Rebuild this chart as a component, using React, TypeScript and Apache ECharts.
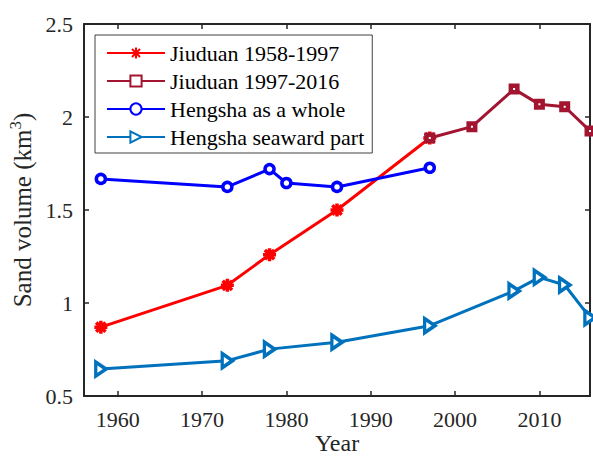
import React, { useEffect, useRef } from "react";
import * as echarts from "echarts";

const yearsJ1 = [1958, 1973, 1978, 1986, 1997];
const jiuduan1 = [0.87, 1.095, 1.26, 1.5, 1.887];
const yearsJ2 = [1997, 2002, 2007, 2010, 2013, 2016];
const jiuduan2 = [1.887, 1.948, 2.15, 2.068, 2.055, 1.925];
const yearsH = [1958, 1973, 1978, 1980, 1986, 1997];
const hengsha = [1.667, 1.624, 1.72, 1.645, 1.624, 1.727];
const yearsS = [1958, 1973, 1978, 1986, 1997, 2007, 2010, 2013, 2016];
const seaward = [0.645, 0.69, 0.752, 0.789, 0.878, 1.065, 1.138, 1.097, 0.921];
const xTicks = [1960, 1970, 1980, 1990, 2000, 2010];
const seriesNames = ["Jiuduan 1958-1997", "Jiuduan 1997-2016", "Hengsha as a whole", "Hengsha seaward part"];

const FONT = "Liberation Serif";
const AX = "#262626";

const pair = (xs: number[], ys: number[]) => xs.map((x, i) => [x, ys[i]]);

export default function App() {
  const ref = useRef<HTMLDivElement>(null);
  useEffect(() => {
    const chart = echarts.init(ref.current!, null, { renderer: "svg" });
    const axLine = { show: true, lineStyle: { color: AX, width: 2 } };
    const tickX = { show: true, inside: true, length: 5, customValues: xTicks, lineStyle: { color: AX, width: 1.5 } };
    const tickY = { show: true, inside: true, length: 5, lineStyle: { color: AX, width: 1.5 } };
    chart.setOption({
      animation: false,
      backgroundColor: "#fff",
      textStyle: { fontFamily: FONT },
      grid: { left: 84, right: 3, top: 24, bottom: 62, containLabel: false, outerBoundsMode: "none" },
      legend: {
        orient: "vertical",
        left: 95,
        top: 35,
        padding: [7, 8, 5, 11],
        itemGap: 6,
        itemWidth: 58,
        itemHeight: 14,
        borderColor: "#404040",
        borderWidth: 1,
        backgroundColor: "#fff",
        data: seriesNames,
        textStyle: { fontFamily: FONT, fontSize: 22, lineHeight: 22, color: "#000" },
      },
      xAxis: [
        {
          type: "value",
          min: 1956,
          max: 2016,
          name: "Year",
          nameLocation: "middle",
          nameGap: 35,
          nameMoveOverlap: false,
          nameTextStyle: { fontFamily: FONT, fontSize: 24, lineHeight: 24, color: AX },
          axisLine: axLine,
          axisTick: tickX,
          axisLabel: {
            show: true,
            customValues: xTicks,
            margin: 12,
            fontFamily: FONT,
            fontSize: 22,
            color: AX,
            formatter: (v: number) => String(v),
          },
          splitLine: { show: false },
        },
        {
          type: "value",
          position: "top",
          min: 1956,
          max: 2016,
          axisLine: axLine,
          axisTick: tickX,
          axisLabel: { show: false, customValues: xTicks },
          splitLine: { show: false },
        },
      ],
      yAxis: [
        {
          type: "value",
          min: 0.5,
          max: 2.5,
          interval: 0.5,
          name: "{a|Sand volume (km}{b|3}{a|)}",
          nameLocation: "middle",
          nameGap: 47,
          nameTextStyle: {
            fontFamily: FONT,
            color: AX,
            rich: {
              a: { fontFamily: FONT, fontSize: 25, lineHeight: 30, color: AX },
              b: { fontFamily: FONT, fontSize: 17, lineHeight: 14, verticalAlign: "top", color: AX },
            },
          },
          axisLine: axLine,
          axisTick: tickY,
          axisLabel: { margin: 11, fontFamily: FONT, fontSize: 22, color: AX, formatter: (v: number) => String(v) },
          splitLine: { show: false },
        },
        {
          type: "value",
          position: "right",
          min: 0.5,
          max: 2.5,
          interval: 0.5,
          axisLine: axLine,
          axisTick: tickY,
          axisLabel: { show: false },
          splitLine: { show: false },
        },
      ],
      series: [
        {
          name: seriesNames[0],
          type: "line",
          data: pair(yearsJ1, jiuduan1),
          symbol: "path://M0,-1 L0,1 M-1,0 L1,0 M-0.72,-0.72 L0.72,0.72 M-0.72,0.72 L0.72,-0.72",
          symbolSize: 13,
          lineStyle: { color: "#ff0000", width: 3 },
          itemStyle: { color: "#ff0000", borderColor: "#ff0000", borderWidth: 3.5 },
          z: 2,
        },
        {
          name: seriesNames[1],
          type: "line",
          data: pair(yearsJ2, jiuduan2),
          symbol: "rect",
          symbolSize: 6.5,
          lineStyle: { color: "#a2142f", width: 3 },
          itemStyle: { color: "#fff", borderColor: "#a2142f", borderWidth: 4.5 },
          z: 3,
        },
        {
          name: seriesNames[2],
          type: "line",
          data: pair(yearsH, hengsha),
          symbol: "circle",
          symbolSize: 9,
          lineStyle: { color: "#0000ff", width: 3 },
          itemStyle: { color: "#fff", borderColor: "#0000ff", borderWidth: 3.5 },
          z: 4,
        },
        {
          name: seriesNames[3],
          type: "line",
          data: pair(yearsS, seaward),
          symbol: "path://M0,0 L12,7 L0,14 Z",
          symbolSize: [12, 14],
          symbolKeepAspect: true,
          lineStyle: { color: "#0072bd", width: 3 },
          itemStyle: { color: "#fff", borderColor: "#0072bd", borderWidth: 3.5 },
          z: 5,
        },
      ],
    });
    return () => chart.dispose();
  }, []);
  return (
    <div
      ref={ref}
      style={{ position: "fixed", left: 0, top: 0, width: 593, height: 458, background: "#fff" }}
    />
  );
}
